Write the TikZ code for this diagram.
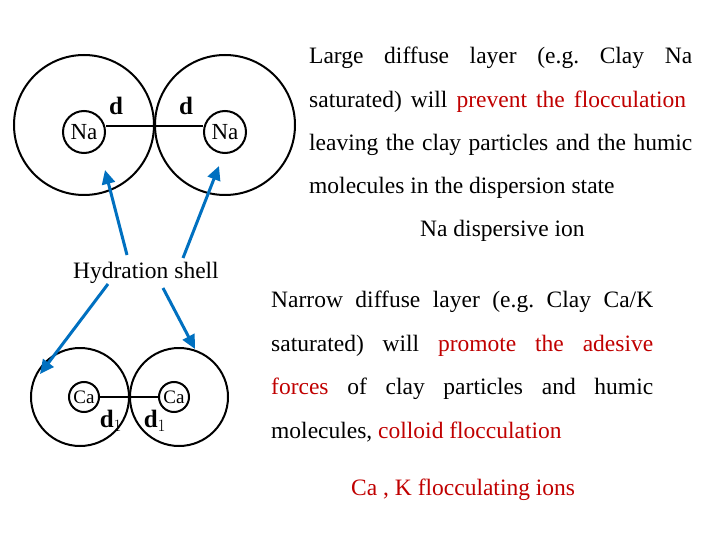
\documentclass[tikz,border=0pt]{standalone}
\usepackage{fontspec}
\setmainfont{Liberation Serif}
\usetikzlibrary{arrows.meta}
\definecolor{rd}{RGB}{192,0,0}
\definecolor{bl}{RGB}{0,112,192}
\begin{document}
\frenchspacing
\begin{tikzpicture}[x=1pt,y=-1pt,
 circ/.style={draw,circle,line width=2pt,inner sep=0},
 ar/.style={bl,line width=3pt,-{Triangle[length=14pt,width=13pt]}},
 txt/.style={anchor=west,inner sep=0,font=\fontsize{23.5}{25}\selectfont},
 lab/.style={inner sep=0,font=\fontsize{25}{26}\selectfont\bfseries}]
\useasboundingbox (0,0) rectangle (720,540);
% top circles
\node[circ,minimum size=140] (L1) at (84,125) {};
\node[circ,minimum size=140] (R1) at (225,125) {};
\node[circ,minimum size=42,font=\fontsize{23}{24}\selectfont] (na1) at (84,132) {Na};
\node[circ,minimum size=42,font=\fontsize{23}{24}\selectfont] (na2) at (225,132) {Na};
\draw[line width=2pt] (na1.east|-0,126) -- (na2.west|-0,126);
\node[lab] (d1) at (116,106) {d};
\node[lab] (d2) at (186,106) {d};
% bottom circles
\node[circ,minimum size=98] (L2) at (80,397) {};
\node[circ,minimum size=98] (R2) at (179,397) {};
\node[circ,minimum size=30,font=\fontsize{19}{20}\selectfont] (ca1) at (84,397) {Ca};
\node[circ,minimum size=30,font=\fontsize{19}{20}\selectfont] (ca2) at (174,397) {Ca};
\draw[line width=2pt] (ca1.east|-0,397) -- (ca2.west|-0,397);
\node[lab] (e1) at (111,421) {d$_1$};
\node[lab] (e2) at (155,421) {d$_1$};
% hydration
\node[txt] (hs) at (73,273) {Hydration shell};
\coordinate (a1) at (127,255); \coordinate (a2) at (183,258);
\coordinate (a3) at (108,284); \coordinate (a4) at (163,288);
\coordinate (t1) at (105,170); \coordinate (t2) at (219,166);
\coordinate (t3) at (40,374); \coordinate (t4) at (195,349);
\draw[ar] (a1) -- (t1);
\draw[ar] (a2) -- (t2);
\draw[ar] (a3) -- (t3);
\draw[ar] (a4) -- (t4);
% top paragraph
\node[txt] (p1) at (309,58) {\makebox[383pt][s]{Large diffuse layer (e.g. Clay Na}};
\node[txt] (p2) at (309,102) {\makebox[377pt][s]{saturated) will \textcolor{rd}{prevent the flocculation}}};
\node[txt] (p3) at (309,145) {\makebox[383pt][s]{leaving the clay particles and the humic}};
\node[txt] (p4) at (309,188) {molecules in the dispersion state};
\node[txt] (p5) at (420,231) {Na dispersive ion};
% bottom paragraph
\node[txt] (q1) at (271,302) {\makebox[382pt][s]{Narrow diffuse layer (e.g. Clay Ca/K}};
\node[txt] (q2) at (271,346) {\makebox[382pt][s]{saturated) will \textcolor{rd}{promote the adesive}}};
\node[txt] (q3) at (271,389) {\makebox[382pt][s]{\textcolor{rd}{forces} of clay particles and humic}};
\node[txt] (q4) at (271,432) {molecules, \textcolor{rd}{colloid flocculation}};
\node[txt,text=rd] (q5) at (351,490) {Ca , K flocculating ions};
\end{tikzpicture}
\end{document}
